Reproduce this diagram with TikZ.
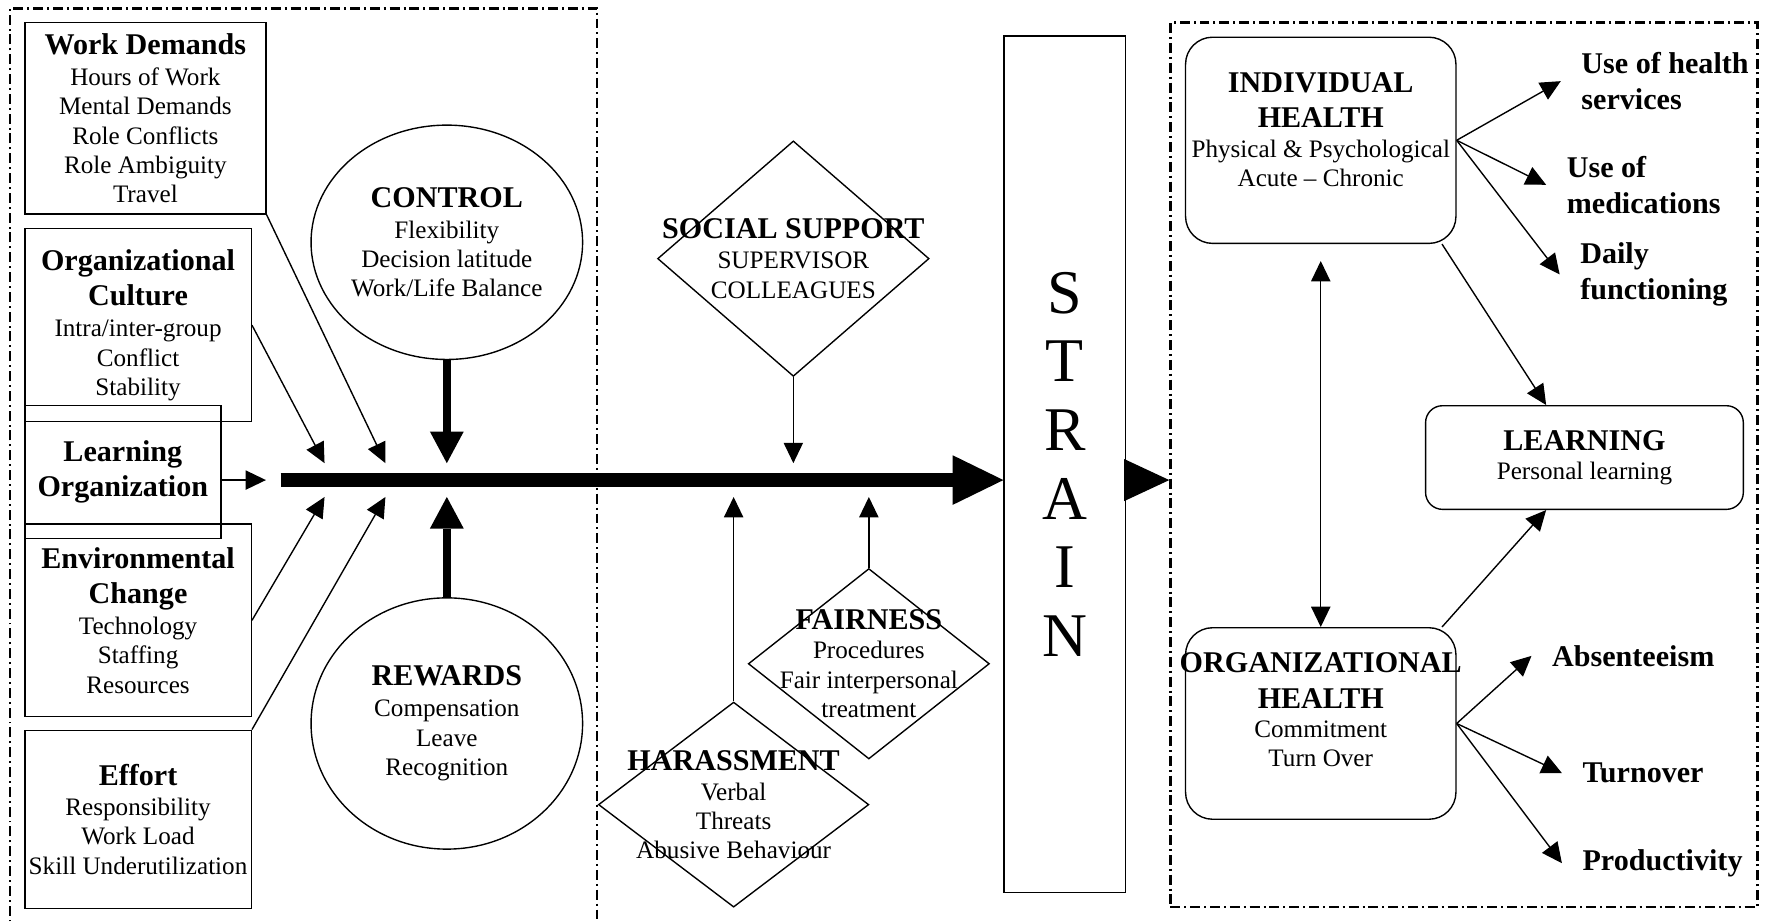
\documentclass[tikz,border=0pt]{standalone}
\usepackage{fontspec}
\setmainfont{Liberation Serif}
\usetikzlibrary{shapes.geometric,arrows.meta}
\newcommand{\normsz}{\fontsize{12.7}{14.8}\selectfont}
\newcommand{\hdr}[1]{{\fontsize{15.2}{17.9}\selectfont\bfseries #1}}
\newcommand{\outsz}{\fontsize{15.2}{18.2}\selectfont\bfseries}
\begin{document}
\begin{tikzpicture}[x=0.02cm,y=-0.02cm,>={Triangle[length=0.36cm,width=0.34cm]},
    box/.style={draw, line width=0.7pt, inner sep=0pt},
    rbox/.style={box, rounded corners=0.48cm},
    oval/.style={box, ellipse},
    diam/.style={box, diamond},
    txt/.style={align=center, font=\normsz},
    zone/.style={draw, line width=1.2pt, dash pattern=on 5pt off 2pt on 1pt off 2pt},
    outc/.style={align=left, font=\outsz, inner sep=0pt, anchor=west},
    arr/.style={->, line width=0.7pt},
    fat/.style={-{Triangle[length=0.56cm,width=0.6cm,line width=0pt]}, line width=0.14cm},
    mainarr/.style={-{Triangle[length=0.9cm,width=0.88cm,line width=0pt]}, line width=0.26cm}]
  \useasboundingbox (0,0) rectangle (1568,818);

  % dash-dot zones
  \draw[zone] (8.8,830) |- (530,7.4) -- (530,830);
  \node[zone, inner sep=0pt, minimum width=10.42cm, minimum height=15.7cm] (outR) at (1299.1,412.5) {};

  % stressors
  \node[box, minimum width=4.28cm, minimum height=3.4cm,
    label={[txt]center:\hdr{Work Demands}\\[1pt]Hours of Work\\Mental Demands\\Role Conflicts\\Role Ambiguity\\Travel}] (wd) at (129,105) {};
  \node[box, minimum width=4.02cm, minimum height=3.42cm,
    label={[txt]center:\hdr{Organizational}\\[3pt]\hdr{Culture}\\[1pt]Intra/inter-group\\Conflict\\Stability}] (oc) at (122.5,288.5) {};
  \node[box, minimum width=3.48cm, minimum height=2.36cm,
    label={[txt]center:\hdr{Learning}\\[3pt]\hdr{Organization}}] (lo) at (109,419) {};
  \node[box, minimum width=4.02cm, minimum height=3.42cm,
    label={[txt]center:\hdr{Environmental}\\[3pt]\hdr{Change}\\[1pt]Technology\\Staffing\\Resources}] (ec) at (122.5,550.5) {};
  \node[box, minimum width=4.02cm, minimum height=3.16cm,
    label={[txt]center:\hdr{Effort}\\[0.5pt]Responsibility\\Work Load\\Skill Underutilization}] (ef) at (122.5,727) {};

  \node[oval, minimum width=4.82cm, minimum height=4.16cm,
    label={[txt]center:\hdr{CONTROL}\\[0.6pt]Flexibility\\Decision latitude\\Work/Life Balance}] (ctl) at (396.5,215) {};
  \node[oval, minimum width=4.82cm, minimum height=4.46cm,
    label={[txt]center:\hdr{REWARDS}\\[0.8pt]Compensation\\Leave\\Recognition}] (rew) at (396.5,642) {};

  % moderators
  \node[diam, minimum width=4.82cm, minimum height=4.18cm,
    label={[txt]center:\hdr{SOCIAL SUPPORT}\\[0.5pt]SUPERVISOR\\COLLEAGUES}] (soc) at (704,229.5) {};
  \node[diam, minimum width=4.28cm, minimum height=3.38cm,
    label={[txt]center:\hdr{FAIRNESS}\\Procedures\\Fair interpersonal\\treatment}] (fair) at (771,589) {};
  \node[diam, minimum width=4.8cm, minimum height=3.64cm,
    label={[txt]center:\hdr{HARASSMENT}\\[0.5pt]Verbal\\Threats\\Abusive Behaviour}] (har) at (651,714) {};

  \node[box, minimum width=2.16cm, minimum height=15.2cm,
    label={[align=center, font=\fontsize{31.4}{34.7}\selectfont]center:S\\T\\R\\A\\I\\N}] (strain) at (945,412) {};

  % outcomes
  \node[rbox, minimum width=4.8cm, minimum height=3.66cm,
    label={[txt, yshift=0.19cm]center:\hdr{INDIVIDUAL}\\[3pt]\hdr{HEALTH}\\Physical \& Psychological\\Acute -- Chronic}] (ind) at (1172,124.5) {};
  \node[rbox, rounded corners=0.3cm, minimum width=5.64cm, minimum height=1.84cm,
    label={[txt]center:\hdr{LEARNING}\\Personal learning}] (lrn) at (1406,406) {};
  \node[rbox, minimum width=4.8cm, minimum height=3.4cm,
    label={[txt, yshift=0.24cm]center:\hdr{ORGANIZATIONAL}\\[3pt]\hdr{HEALTH}\\Commitment\\Turn Over}] (org) at (1172,642) {};

  \node[outc] (uoh) at (1403,72) {Use of health\\services};
  \node[outc] (med) at (1390,164) {Use of\\medications};
  \node[outc] (dly) at (1402,243.5) {Daily\\functioning};
  \node[outc] (abs) at (1377,582) {Absenteeism};
  \node[outc] (tov) at (1404,686) {Turnover};
  \node[outc] (prd) at (1404,766) {Productivity};

  % arrow ends on the main line
  \coordinate (bar) at (249,426);
  \coordinate (wdTip) at (342,411);
  \coordinate (ocTip) at (288,411);
  \coordinate (loTip) at (236,426);
  \coordinate (ecTip) at (288,441);
  \coordinate (efTip) at (342,441);

  \draw[mainarr] (bar) -- (bar -| strain.west);
  \draw[-{Triangle[length=0.8cm,width=0.74cm]}, line width=0.7pt] (strain.east |- bar) -- (outR.west |- bar);

  \path[fat]
    (ctl.south) edge (ctl.south |- wdTip)
    (rew.north) edge (rew.north |- efTip);

  \path[arr]
    (wd.south east) edge (wdTip)
    (oc.east) edge (ocTip)
    (lo.east |- loTip) edge (loTip)
    (ec.east) edge (ecTip)
    (ef.north east) edge (efTip)
    (soc.south) edge (soc.south |- wdTip)
    (har.north) edge (har.north |- efTip)
    (fair.north) edge (fair.north |- efTip);

  \path[arr]
    (ind.east) edge ([xshift=-0.36cm]uoh.west)
    (ind.east) edge ([xshift=-0.36cm]med.west)
    (ind.east) edge ([xshift=-0.36cm]dly.west)
    ([xshift=-0.26cm]ind.south east) edge ([xshift=-0.68cm]lrn.north)
    ([xshift=-0.26cm]org.north east) edge ([xshift=-0.68cm]lrn.south)
    (org.east) edge ([xshift=-0.36cm]abs.west)
    (org.east) edge ([xshift=-0.36cm]tov.west)
    (org.east) edge ([xshift=-0.36cm]prd.west);
  \draw[arr, <->, shorten <=0.3cm] (ind) -- (org);
\end{tikzpicture}
\end{document}
